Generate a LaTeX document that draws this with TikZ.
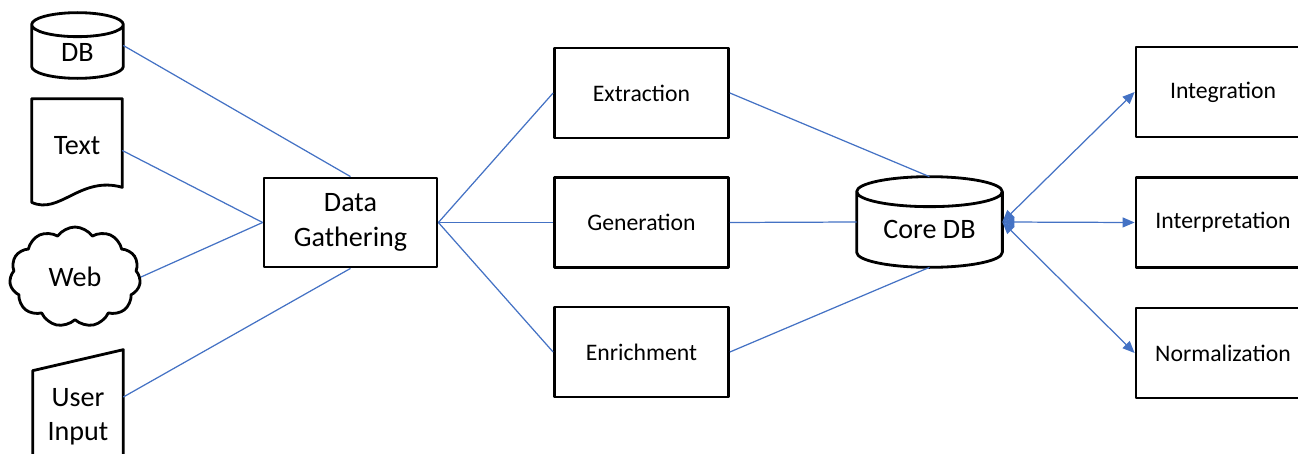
\documentclass[tikz,border=0pt]{standalone}
\usepackage{fontspec}
\setmainfont{Carlito}
\usetikzlibrary{shapes.symbols,arrows.meta,positioning,calc}
\definecolor{linkblue}{RGB}{68,114,196}

\begin{document}
\begin{tikzpicture}[
    x=0.02cm, y=-0.02cm,
    every node/.style={font=\fontsize{16}{19.5}\selectfont},
    shapeline/.style={draw=black, line width=1.6pt, line join=round},
    process/.style={rectangle, shapeline, minimum width=3.48cm, minimum height=1.8cm, inner sep=0pt, align=center, font=\fontsize{13.5}{16}\selectfont},
    source/.style={rectangle, minimum width=1.8cm, inner sep=0pt, align=center},
    dbnode/.style={rectangle, inner sep=0pt, text height=0.66cm, text depth=0pt},
    link/.style={linkblue, line width=0.7pt},
    twoway/.style={link, {Triangle[length=0.24cm,width=0.2cm]}-{Triangle[length=0.24cm,width=0.2cm]}}
]
\useasboundingbox (0,0) rectangle (1298,453);
\clip (0,0) rectangle (1298,453);

% Sources (left)
\node[dbnode, minimum width=1.82cm, minimum height=1.3cm] (db) at (77.5,45.5) {DB};
\node[source, minimum height=2.06cm, text depth=0.2cm] (txt) at (77,150.5) {Text};
\node[cloud, shapeline, cloud puffs=11, cloud puff arc=110, aspect=1.35, minimum width=2.62cm, minimum height=2cm, inner sep=0pt] (web) at (75,277) {Web};
\node[source, minimum height=2.68cm] (user) at (78,417) {User\\Input};

% Gathering and processing
\node[process, minimum width=3.46cm, minimum height=1.78cm, font=\fontsize{16}{19.5}\selectfont] (gather) at (350.5,222.5) {Data\\Gathering};
\node[process] (extract) at (641.5,93) {Extraction};
\node[process] (generate) at (641.5,222.5) {Generation};
\node[process] (enrich) at (641.5,352) {Enrichment};

% Core database
\node[dbnode, minimum width=2.9cm, minimum height=1.8cm] (coredb) at (929.5,222) {Core DB};

% Consumers (right)
\node[process] (integ) at (1223,92) {Integration};
\node[process] (interp) at (1223,222.5) {Interpretation};
\node[process] (norm) at (1223,353) {Normalization};

% Cylinder outlines
\foreach \nm/\ry in {db/0.24cm, coredb/0.3cm}
    \draw[shapeline] let \p1=(\nm.north west), \p2=(\nm.south east), \n1={(\x2-\x1)/2} in
        ($(\nm.north)+(0,-\ry)$) ellipse [x radius=\n1, y radius=\ry]
        ({\x1},{\y1-\ry}) -- ({\x1},{\y2+\ry})
        arc[start angle=180, end angle=360, x radius=\n1, y radius=\ry] -- ({\x2},{\y1-\ry});

% Document and manual input outlines
\draw[shapeline] (txt.south west) .. controls +(28,13) and +(-42,-12) .. ($(txt.south east)+(0,-15)$)
    -- (txt.north east) -- (txt.north west) -- cycle;
\draw[shapeline] (user.south west) -- ($(user.north west)+(0,21)$) -- (user.north east) -- (user.south east);

% Connectors
\draw[link] (db.east) -- (gather.north);
\draw[link] (txt.east) -- (gather.west);
\draw[link] (web.east) -- (gather.west);
\draw[link] ($(user.east)+(0,-20)$) -- (gather.south);

\foreach \p in {extract, generate, enrich}
    \draw[link] (gather.east) -- (\p.west);

\draw[link] (extract.east) -- (coredb.north);
\draw[link] (generate.east) -- (coredb.west);
\draw[link] (enrich.east) -- (coredb.south);

\foreach \c in {integ, interp, norm}
    \draw[twoway] (coredb.east) -- (\c.west);

\end{tikzpicture}
\end{document}
